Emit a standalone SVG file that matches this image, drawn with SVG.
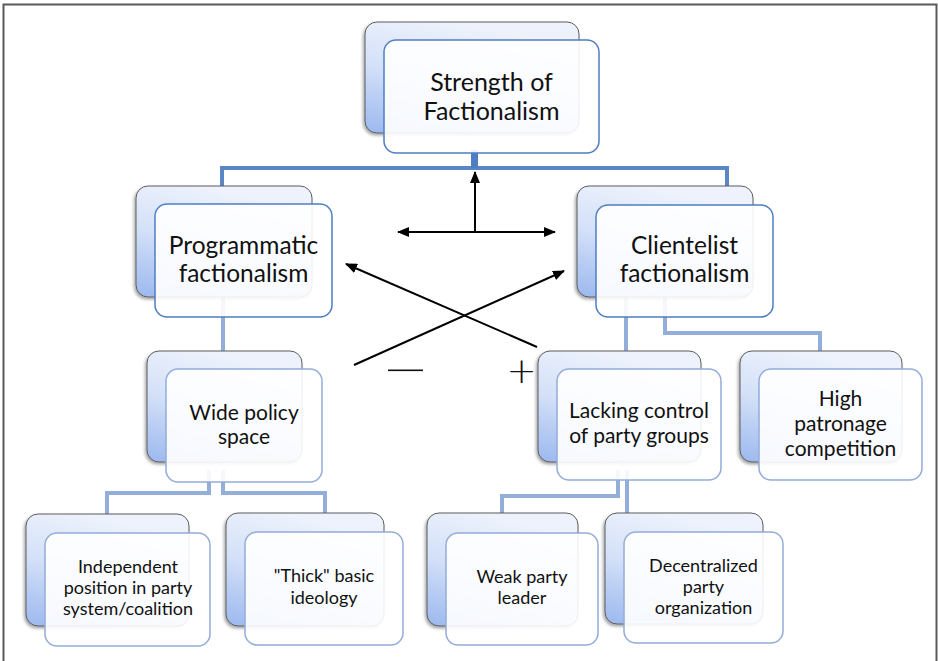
<svg xmlns="http://www.w3.org/2000/svg" width="938" height="661" viewBox="0 0 938 661">
  <defs>
    <linearGradient id="backFill" x1="0.35" y1="0" x2="0" y2="1">
      <stop offset="0" stop-color="#EDF2FC"/>
      <stop offset="0.45" stop-color="#D3E0F8"/>
      <stop offset="1" stop-color="#9BB8EE"/>
    </linearGradient>
    <filter id="shadow" x="-10%" y="-10%" width="120%" height="125%">
      <feDropShadow dx="-1.5" dy="2" stdDeviation="1.5" flood-color="#000" flood-opacity="0.35"/>
    </filter>
    <marker id="arrow" viewBox="0 0 12 10" refX="11" refY="5" markerWidth="12" markerHeight="10" markerUnits="userSpaceOnUse" orient="auto-start-reverse">
      <path d="M0,0 L12,5 L0,10 Z" fill="#000"/>
    </marker>
  </defs>
  <style>
    .back { fill: url(#backFill); stroke: #5C5C5C; stroke-width: 1; filter: url(#shadow); }
    .front { fill: #FFFFFF; fill-opacity: 0.9; stroke-width: 1.5; }
    .f1 { stroke: #4F7EC2; }
    .f2 { stroke: #93ACDA; }
    .label { font-family: Lato, "Liberation Sans", sans-serif; fill: #111; text-anchor: middle; }
    .s25 { font-size: 25px; }
    .s24 { font-size: 24.5px; }
    .s21 { font-size: 21px; }
    .s18 { font-size: 18px; }
    .tree { fill: none; stroke: #94AEDA; stroke-width: 4; }
    .trunk { fill: none; stroke: #5A86C4; stroke-width: 4; }
    .effect { fill: none; stroke: #000; stroke-width: 2; }
    .sign { font-family: "DejaVu Sans", "Liberation Sans", sans-serif; font-weight: 200; fill: #111; text-anchor: middle; }
  </style>

  <!-- page frame -->
  <rect x="3.5" y="4.5" width="933" height="680" fill="#FFFFFF" stroke="#5A5A5A" stroke-width="2"/>

  <!-- hierarchy and effect connectors -->
  <g id="connectors">
    <path class="trunk" d="M222,190 V168 H727 V190"/>
    <rect x="471" y="150" width="7" height="18" fill="#4F7EC2"/>
    <path class="tree" d="M223,290 V352"/>
    <path class="tree" d="M626,290 V352"/>
    <path class="tree" d="M665,290 V333 H820 V352"/>
    <path class="tree" d="M209,470 V493 H107 V515"/>
    <path class="tree" d="M223,470 V493 H325 V515"/>
    <path class="tree" d="M618,470 V496 H502 V515"/>
    <path class="tree" d="M627,470 V513"/>

    <path class="effect" d="M475,232 V172" marker-end="url(#arrow)"/>
    <path class="effect" d="M398,232 H555" marker-start="url(#arrow)" marker-end="url(#arrow)"/>
    <path class="effect" d="M354,365 L564,271" marker-end="url(#arrow)"/>
    <path class="effect" d="M537,347 L346,264" marker-end="url(#arrow)"/>
    <rect x="388" y="369.5" width="35" height="1.6" fill="#111"/>
    <text class="sign" x="521.5" y="383" font-size="36">+</text>
  </g>

  <g id="node-strength">
    <rect class="back" x="365" y="22" width="214" height="111" rx="12"/>
    <rect class="front f1" x="384" y="40" width="215" height="113" rx="12"/>
    <text class="label s25" x="491.5" y="91">Strength of</text>
    <text class="label s25" x="491.5" y="120">Factionalism</text>
  </g>

  <g id="node-programmatic">
    <rect class="back" x="136" y="186" width="176" height="111" rx="12"/>
    <rect class="front f1" x="155" y="204" width="177" height="113" rx="12"/>
    <text class="label s24" x="243.5" y="254">Programmatic</text>
    <text class="label s24" x="243.5" y="282">factionalism</text>
  </g>

  <g id="node-clientelist">
    <rect class="back" x="577" y="186" width="176" height="111" rx="12"/>
    <rect class="front f1" x="596" y="205" width="177" height="112" rx="12"/>
    <text class="label s24" x="684.5" y="254">Clientelist</text>
    <text class="label s24" x="684.5" y="282">factionalism</text>
  </g>

  <g id="node-wide-policy">
    <rect class="back" x="147" y="351" width="155" height="111" rx="12"/>
    <rect class="front f2" x="166" y="369" width="156" height="113" rx="12"/>
    <text class="label s21" x="244" y="420">Wide policy</text>
    <text class="label s21" x="244" y="444">space</text>
  </g>

  <g id="node-lacking-control">
    <rect class="back" x="538" y="351" width="163" height="111" rx="12"/>
    <rect class="front f2" x="557" y="369" width="164" height="111" rx="12"/>
    <text class="label s21" x="639" y="418">Lacking control</text>
    <text class="label s21" x="639" y="443">of party groups</text>
  </g>

  <g id="node-high-patronage">
    <rect class="back" x="740" y="351" width="162" height="111" rx="12"/>
    <rect class="front f2" x="759" y="369" width="163" height="111" rx="12"/>
    <text class="label s21" x="840.5" y="406">High</text>
    <text class="label s21" x="840.5" y="431">patronage</text>
    <text class="label s21" x="840.5" y="456">competition</text>
  </g>

  <g id="node-independent-position">
    <rect class="back" x="26" y="514" width="163" height="112" rx="12"/>
    <rect class="front f2" x="45" y="533" width="165" height="113" rx="12"/>
    <text class="label s18" x="128" y="573">Independent</text>
    <text class="label s18" x="128" y="594">position in party</text>
    <text class="label s18" x="128" y="615">system/coalition</text>
  </g>

  <g id="node-thick-ideology">
    <rect class="back" x="226" y="513" width="158" height="113" rx="12"/>
    <rect class="front f2" x="245" y="532" width="158" height="113" rx="12"/>
    <text class="label s18" x="324" y="582">"Thick" basic</text>
    <text class="label s18" x="324" y="604">ideology</text>
  </g>

  <g id="node-weak-leader">
    <rect class="back" x="427" y="513" width="151" height="113" rx="12"/>
    <rect class="front f2" x="446" y="533" width="152" height="112" rx="12"/>
    <text class="label s18" x="522" y="583">Weak party</text>
    <text class="label s18" x="522" y="604">leader</text>
  </g>

  <g id="node-decentralized-organization">
    <rect class="back" x="605" y="513" width="158" height="111" rx="12"/>
    <rect class="front f2" x="624" y="532" width="159" height="111" rx="12"/>
    <text class="label s18" x="703.5" y="572">Decentralized</text>
    <text class="label s18" x="703.5" y="593">party</text>
    <text class="label s18" x="703.5" y="614">organization</text>
  </g>
</svg>
